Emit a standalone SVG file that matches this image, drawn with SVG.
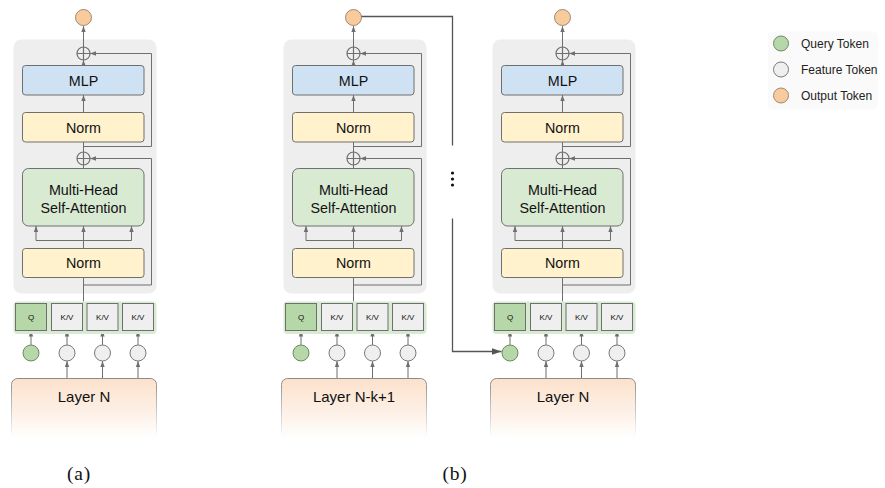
<svg xmlns="http://www.w3.org/2000/svg" width="885" height="488" viewBox="0 0 885 488">
<defs>
<style>
.panel{fill:#eeeeee;}
.box{stroke:#6f6f6f;stroke-width:1;}
.mlp{fill:#cfe2f3;}
.norm{fill:#fff2cc;}
.attn{fill:#d9ead3;}
.strip{fill:#d9ead3;}
.q{fill:#b6d7a8;stroke:#6f6f6f;stroke-width:1;}
.kv{fill:#efefef;stroke:#6f6f6f;stroke-width:1;}
.tq{fill:#b6d7a8;stroke:#6f8a63;stroke-width:1;}
.tf{fill:#efefef;stroke:#7a7a7a;stroke-width:1;}
.to{fill:#f9cb9c;stroke:#9a8a7a;stroke-width:1;}
.plus{fill:none;stroke:#6f6f6f;stroke-width:1.2;}
.w{fill:none;stroke:#6f6f6f;stroke-width:1;}
.wa{fill:none;stroke:#6f6f6f;stroke-width:1;marker-end:url(#ah);}
.t{font-family:"Liberation Sans",Arial,sans-serif;fill:#111;text-anchor:middle;}
.t14{font-size:14.3px;}
.t15{font-size:15px;}
.t8{font-size:8px;}
.leg{font-family:"Liberation Sans",Arial,sans-serif;font-size:12px;fill:#222;}
.cap{font-family:"Liberation Serif","Times New Roman",serif;font-size:19.5px;fill:#111;text-anchor:middle;letter-spacing:0.8px;}
.layer{fill:url(#lg);stroke:url(#ls);stroke-width:1;}
</style>
<marker id="ah" markerUnits="userSpaceOnUse" markerWidth="6" markerHeight="6" viewBox="0 0 6 6" refX="6" refY="3" orient="auto">
<path d="M0,0.8 L6,3 L0,5.2 Z" fill="#6f6f6f"/>
</marker>
<marker id="ahb" markerUnits="userSpaceOnUse" markerWidth="10" markerHeight="10" viewBox="0 0 10 10" refX="10" refY="5" orient="auto">
<path d="M0,1.5 L10,5 L0,8.5 Z" fill="#555"/>
</marker>
<linearGradient id="lg" x1="0" y1="0" x2="0" y2="1">
<stop offset="0" stop-color="#fce1cb"/>
<stop offset="0.55" stop-color="#fdf0e6"/>
<stop offset="1" stop-color="#ffffff"/>
</linearGradient>
<linearGradient id="ls" x1="0" y1="0" x2="0" y2="1">
<stop offset="0" stop-color="#8a8a8a"/>
<stop offset="1" stop-color="#ffffff"/>
</linearGradient>
</defs>
<rect width="885" height="488" fill="#ffffff"/>

<!-- Block (a) -->
<g id="block-a" transform="translate(0,0)">
<rect class="panel" x="13.5" y="39.5" width="143" height="254" rx="8"/>
<g id="a-connectors">
<line class="wa" x1="83.5" y1="47" x2="83.5" y2="26"/>
<line class="wa" x1="83.5" y1="65.5" x2="83.5" y2="60"/>
<line class="wa" x1="83.5" y1="112.5" x2="83.5" y2="95"/>
<line class="w" x1="83.5" y1="152" x2="83.5" y2="142"/>
<path class="wa" d="M83.5 146.5 H151.5 V53.5 H90"/>
<line class="w" x1="83.5" y1="168.5" x2="83.5" y2="165"/>
<path class="wa" d="M83.5 285 H151.5 V158.5 H90"/>
<path class="w" d="M36 240.5 H131.5"/>
<line class="wa" x1="36" y1="240.5" x2="36" y2="226"/>
<line class="wa" x1="83.5" y1="248.5" x2="83.5" y2="226"/>
<line class="wa" x1="131.5" y1="240.5" x2="131.5" y2="226"/>
<line class="w" x1="83.5" y1="277.5" x2="83.5" y2="301.5"/>
<line class="wa" x1="31" y1="345" x2="31" y2="330.5"/>
<line class="wa" x1="67" y1="345" x2="67" y2="330.5"/>
<line class="wa" x1="102.5" y1="345" x2="102.5" y2="330.5"/>
<line class="wa" x1="138" y1="345" x2="138" y2="330.5"/>
<line class="wa" x1="67" y1="378.5" x2="67" y2="361"/>
<line class="wa" x1="102.5" y1="378.5" x2="102.5" y2="361"/>
<line class="wa" x1="138" y1="378.5" x2="138" y2="361"/>
</g>
<g id="a-out"><circle class="to" cx="83.5" cy="17.5" r="8"/></g>
<g id="a-plus1"><circle class="plus" cx="83.5" cy="53.5" r="6.5"/><path class="plus" d="M77 53.5 H90 M83.5 47 V60"/></g>
<g id="a-mlp"><rect class="box mlp" x="22.5" y="65.5" width="121.5" height="29.5" rx="3"/><text class="t t14" x="83.5" y="85.5">MLP</text></g>
<g id="a-norm1"><rect class="box norm" x="22.5" y="112.5" width="121.5" height="29.5" rx="3"/><text class="t t14" x="83.5" y="132.5">Norm</text></g>
<g id="a-plus2"><circle class="plus" cx="83.5" cy="158.5" r="6.5"/><path class="plus" d="M77 158.5 H90 M83.5 152 V165"/></g>
<g id="a-attn"><rect class="box attn" x="22.5" y="168.5" width="121.5" height="57.5" rx="6"/><text class="t t14" x="83.5" y="194.5">Multi-Head</text><text class="t t14" x="83.5" y="212.5">Self-Attention</text></g>
<g id="a-norm2"><rect class="box norm" x="22.5" y="248.5" width="121.5" height="29" rx="3"/><text class="t t14" x="83.5" y="268">Norm</text></g>
<g id="a-tokens">
<rect class="strip" x="13.5" y="301.5" width="143" height="32.5" rx="4"/>
<rect class="q" x="15.5" y="303.5" width="31" height="27"/><text class="t t8" x="31" y="320">Q</text>
<rect class="kv" x="51.5" y="303.5" width="31" height="27"/><text class="t t8" x="67" y="320">K/V</text>
<rect class="kv" x="87" y="303.5" width="31" height="27"/><text class="t t8" x="102.5" y="320">K/V</text>
<rect class="kv" x="122.5" y="303.5" width="31" height="27"/><text class="t t8" x="138" y="320">K/V</text>
</g>
<g id="a-circles">
<circle class="tq" cx="31" cy="353" r="8"/>
<circle class="tf" cx="67" cy="353" r="8"/>
<circle class="tf" cx="102.5" cy="353" r="8"/>
<circle class="tf" cx="138" cy="353" r="8"/>
</g>
<g id="a-layer"><rect class="layer" x="11.5" y="378.5" width="145" height="60" rx="6"/><text class="t t15" x="84" y="401.5">Layer N</text></g>
</g>

<!-- Block (b) left -->
<g id="block-b1" transform="translate(270,0)">
<rect class="panel" x="13.5" y="39.5" width="143" height="254" rx="8"/>
<g id="b1-connectors">
<line class="wa" x1="83.5" y1="47" x2="83.5" y2="26"/>
<line class="wa" x1="83.5" y1="65.5" x2="83.5" y2="60"/>
<line class="wa" x1="83.5" y1="112.5" x2="83.5" y2="95"/>
<line class="w" x1="83.5" y1="152" x2="83.5" y2="142"/>
<path class="wa" d="M83.5 146.5 H151.5 V53.5 H90"/>
<line class="w" x1="83.5" y1="168.5" x2="83.5" y2="165"/>
<path class="wa" d="M83.5 285 H151.5 V158.5 H90"/>
<path class="w" d="M36 240.5 H131.5"/>
<line class="wa" x1="36" y1="240.5" x2="36" y2="226"/>
<line class="wa" x1="83.5" y1="248.5" x2="83.5" y2="226"/>
<line class="wa" x1="131.5" y1="240.5" x2="131.5" y2="226"/>
<line class="w" x1="83.5" y1="277.5" x2="83.5" y2="301.5"/>
<line class="wa" x1="31" y1="345" x2="31" y2="330.5"/>
<line class="wa" x1="67" y1="345" x2="67" y2="330.5"/>
<line class="wa" x1="102.5" y1="345" x2="102.5" y2="330.5"/>
<line class="wa" x1="138" y1="345" x2="138" y2="330.5"/>
<line class="wa" x1="67" y1="378.5" x2="67" y2="361"/>
<line class="wa" x1="102.5" y1="378.5" x2="102.5" y2="361"/>
<line class="wa" x1="138" y1="378.5" x2="138" y2="361"/>
</g>
<g id="b1-out"><circle class="to" cx="83.5" cy="17.5" r="8"/></g>
<g id="b1-plus1"><circle class="plus" cx="83.5" cy="53.5" r="6.5"/><path class="plus" d="M77 53.5 H90 M83.5 47 V60"/></g>
<g id="b1-mlp"><rect class="box mlp" x="22.5" y="65.5" width="121.5" height="29.5" rx="3"/><text class="t t14" x="83.5" y="85.5">MLP</text></g>
<g id="b1-norm1"><rect class="box norm" x="22.5" y="112.5" width="121.5" height="29.5" rx="3"/><text class="t t14" x="83.5" y="132.5">Norm</text></g>
<g id="b1-plus2"><circle class="plus" cx="83.5" cy="158.5" r="6.5"/><path class="plus" d="M77 158.5 H90 M83.5 152 V165"/></g>
<g id="b1-attn"><rect class="box attn" x="22.5" y="168.5" width="121.5" height="57.5" rx="6"/><text class="t t14" x="83.5" y="194.5">Multi-Head</text><text class="t t14" x="83.5" y="212.5">Self-Attention</text></g>
<g id="b1-norm2"><rect class="box norm" x="22.5" y="248.5" width="121.5" height="29" rx="3"/><text class="t t14" x="83.5" y="268">Norm</text></g>
<g id="b1-tokens">
<rect class="strip" x="13.5" y="301.5" width="143" height="32.5" rx="4"/>
<rect class="q" x="15.5" y="303.5" width="31" height="27"/><text class="t t8" x="31" y="320">Q</text>
<rect class="kv" x="51.5" y="303.5" width="31" height="27"/><text class="t t8" x="67" y="320">K/V</text>
<rect class="kv" x="87" y="303.5" width="31" height="27"/><text class="t t8" x="102.5" y="320">K/V</text>
<rect class="kv" x="122.5" y="303.5" width="31" height="27"/><text class="t t8" x="138" y="320">K/V</text>
</g>
<g id="b1-circles">
<circle class="tq" cx="31" cy="353" r="8"/>
<circle class="tf" cx="67" cy="353" r="8"/>
<circle class="tf" cx="102.5" cy="353" r="8"/>
<circle class="tf" cx="138" cy="353" r="8"/>
</g>
<g id="b1-layer"><rect class="layer" x="11.5" y="378.5" width="145" height="60" rx="6"/><text class="t t15" x="84" y="401.5">Layer N-k+1</text></g>
</g>

<!-- Block (b) right -->
<g id="block-b2" transform="translate(479,0)">
<rect class="panel" x="13.5" y="39.5" width="143" height="254" rx="8"/>
<g id="b2-connectors">
<line class="wa" x1="83.5" y1="47" x2="83.5" y2="26"/>
<line class="wa" x1="83.5" y1="65.5" x2="83.5" y2="60"/>
<line class="wa" x1="83.5" y1="112.5" x2="83.5" y2="95"/>
<line class="w" x1="83.5" y1="152" x2="83.5" y2="142"/>
<path class="wa" d="M83.5 146.5 H151.5 V53.5 H90"/>
<line class="w" x1="83.5" y1="168.5" x2="83.5" y2="165"/>
<path class="wa" d="M83.5 285 H151.5 V158.5 H90"/>
<path class="w" d="M36 240.5 H131.5"/>
<line class="wa" x1="36" y1="240.5" x2="36" y2="226"/>
<line class="wa" x1="83.5" y1="248.5" x2="83.5" y2="226"/>
<line class="wa" x1="131.5" y1="240.5" x2="131.5" y2="226"/>
<line class="w" x1="83.5" y1="277.5" x2="83.5" y2="301.5"/>
<line class="wa" x1="31" y1="345" x2="31" y2="330.5"/>
<line class="wa" x1="67" y1="345" x2="67" y2="330.5"/>
<line class="wa" x1="102.5" y1="345" x2="102.5" y2="330.5"/>
<line class="wa" x1="138" y1="345" x2="138" y2="330.5"/>
<line class="wa" x1="67" y1="378.5" x2="67" y2="361"/>
<line class="wa" x1="102.5" y1="378.5" x2="102.5" y2="361"/>
<line class="wa" x1="138" y1="378.5" x2="138" y2="361"/>
</g>
<g id="b2-out"><circle class="to" cx="83.5" cy="17.5" r="8"/></g>
<g id="b2-plus1"><circle class="plus" cx="83.5" cy="53.5" r="6.5"/><path class="plus" d="M77 53.5 H90 M83.5 47 V60"/></g>
<g id="b2-mlp"><rect class="box mlp" x="22.5" y="65.5" width="121.5" height="29.5" rx="3"/><text class="t t14" x="83.5" y="85.5">MLP</text></g>
<g id="b2-norm1"><rect class="box norm" x="22.5" y="112.5" width="121.5" height="29.5" rx="3"/><text class="t t14" x="83.5" y="132.5">Norm</text></g>
<g id="b2-plus2"><circle class="plus" cx="83.5" cy="158.5" r="6.5"/><path class="plus" d="M77 158.5 H90 M83.5 152 V165"/></g>
<g id="b2-attn"><rect class="box attn" x="22.5" y="168.5" width="121.5" height="57.5" rx="6"/><text class="t t14" x="83.5" y="194.5">Multi-Head</text><text class="t t14" x="83.5" y="212.5">Self-Attention</text></g>
<g id="b2-norm2"><rect class="box norm" x="22.5" y="248.5" width="121.5" height="29" rx="3"/><text class="t t14" x="83.5" y="268">Norm</text></g>
<g id="b2-tokens">
<rect class="strip" x="13.5" y="301.5" width="143" height="32.5" rx="4"/>
<rect class="q" x="15.5" y="303.5" width="31" height="27"/><text class="t t8" x="31" y="320">Q</text>
<rect class="kv" x="51.5" y="303.5" width="31" height="27"/><text class="t t8" x="67" y="320">K/V</text>
<rect class="kv" x="87" y="303.5" width="31" height="27"/><text class="t t8" x="102.5" y="320">K/V</text>
<rect class="kv" x="122.5" y="303.5" width="31" height="27"/><text class="t t8" x="138" y="320">K/V</text>
</g>
<g id="b2-circles">
<circle class="tq" cx="31" cy="353" r="8"/>
<circle class="tf" cx="67" cy="353" r="8"/>
<circle class="tf" cx="102.5" cy="353" r="8"/>
<circle class="tf" cx="138" cy="353" r="8"/>
</g>
<g id="b2-layer"><rect class="layer" x="11.5" y="378.5" width="145" height="60" rx="6"/><text class="t t15" x="84" y="401.5">Layer N</text></g>
</g>

<!-- Cross-layer connector -->
<g id="connectors">
<path d="M361.5 16.5 H452.5 V145.5" fill="none" stroke="#555" stroke-width="1.3"/>
<path d="M452.5 218.5 V351.5 H501.5" fill="none" stroke="#555" stroke-width="1.3" marker-end="url(#ahb)"/>
<circle cx="452.5" cy="173" r="1.6" fill="#111"/>
<circle cx="452.5" cy="179" r="1.6" fill="#111"/>
<circle cx="452.5" cy="185" r="1.6" fill="#111"/>
</g>

<!-- Legend -->
<g id="legend">
<rect x="768" y="31.5" width="110" height="78" rx="5" fill="#fafafa"/>
<circle class="tq" cx="781" cy="43.5" r="7.5"/>
<text class="leg" x="801" y="47.5">Query Token</text>
<circle class="tf" cx="781" cy="69.5" r="7.5"/>
<text class="leg" x="801" y="73.5">Feature Token</text>
<circle class="to" cx="781" cy="95.5" r="7.5"/>
<text class="leg" x="801" y="99.5">Output Token</text>
</g>

<g id="captions">
<text class="cap" x="79" y="480">(a)</text>
<text class="cap" x="455" y="480">(b)</text>
</g>
</svg>
